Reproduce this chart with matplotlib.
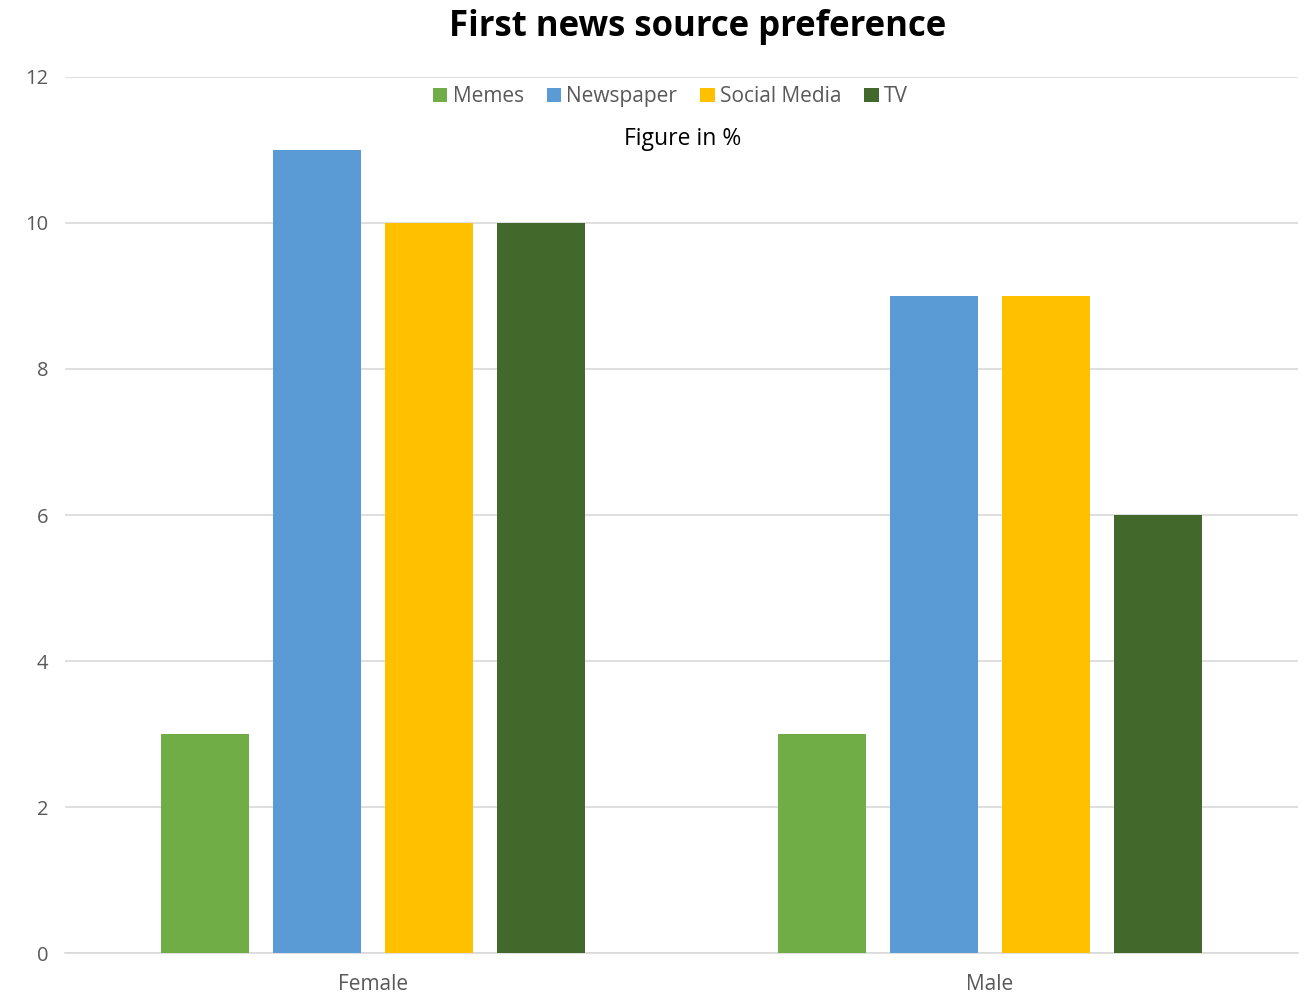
import matplotlib
matplotlib.use("Agg")
import matplotlib.pyplot as plt
from matplotlib.patches import Patch
import numpy as np

categories = ["Female", "Male"]
series = ["Memes", "Newspaper", "Social Media", "TV"]
memes = [3, 3]
newspaper = [11, 9]
social_media = [10, 9]
tv = [10, 6]
colors = ["#70AD47", "#5B9BD5", "#FFC000", "#43682B"]

plt.rcParams['font.family'] = ['Open Sans', 'DejaVu Sans']

fig = plt.figure(figsize=(13.07, 9.97), dpi=100)
ax = fig.add_axes([0.0497, 0.0441, 0.9434, 0.8787])

x = np.arange(len(categories))
width = 0.1427
step = 0.1817
values = [memes, newspaper, social_media, tv]
for i, (name, vals, c) in enumerate(zip(series, values, colors)):
    ax.bar(x + (i - 1.5) * step, vals, width, color=c, label=name, zorder=3)

ax.set_xlim(-0.5, 1.5)
ax.set_ylim(0, 12)
ax.set_yticks(range(0, 13, 2))
ax.set_xticks(x)
ax.set_xticklabels(categories)
ax.grid(axis='y', color='#D9D9D9', linewidth=1.2, zorder=0)
for s in ['top', 'right', 'left']:
    ax.spines[s].set_visible(False)
ax.spines['bottom'].set_color('#D9D9D9')
ax.spines['bottom'].set_linewidth(1.2)
ax.tick_params(axis='y', length=0, labelsize=14.5, colors='#595959', pad=12)
ax.tick_params(axis='x', length=0, labelsize=15, colors='#595959', pad=15)

fig.text(0.534, 0.973, "First news source preference", ha='center', va='center',
         fontsize=25, fontweight='bold', color='black')
handles = [Patch(facecolor=c, label=n) for n, c in zip(series, colors)]
leg = fig.legend(handles=handles, loc='center', bbox_to_anchor=(0.513, 0.903), ncol=4,
                 frameon=False, fontsize=15, handlelength=0.7, handleheight=0.7,
                 handletextpad=0.25, columnspacing=1.1, labelcolor='#595959')
fig.text(0.522, 0.861, "Figure in %", ha='center', va='center', fontsize=16.5, color='black')

fig.savefig("out.png", dpi=100)
